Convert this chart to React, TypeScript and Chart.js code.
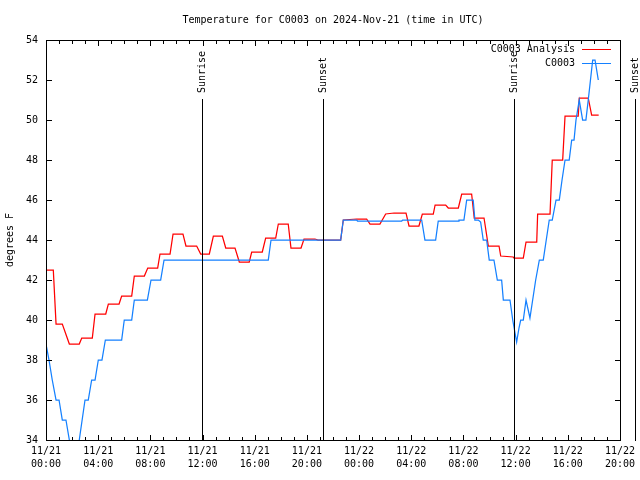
import React, { useEffect, useRef } from 'react';
import { Chart, registerables } from 'chart.js';

Chart.register(...registerables);

const chartTitle = 'Temperature for C0003 on 2024-Nov-21 (time in UTC)';
const yAxisTitle = 'degrees F';
const seriesNames = ['C0003 Analysis', 'C0003'];
const seriesColors = ['#ff0000', '#1480ff'];

const xTickLabels = [
  ['11/21', '00:00'], ['11/21', '04:00'], ['11/21', '08:00'], ['11/21', '12:00'],
  ['11/21', '16:00'], ['11/21', '20:00'], ['11/22', '00:00'], ['11/22', '04:00'],
  ['11/22', '08:00'], ['11/22', '12:00'], ['11/22', '16:00'], ['11/22', '20:00'],
];

// hours since 2024-11-21 00:00 UTC
const analysisHours = [
  0, 0.56, 0.77, 1.25, 1.79, 2.55, 2.74, 3.55, 3.76, 4.58, 4.78, 5.6, 5.8, 6.57,
  6.77, 7.54, 7.8, 8.56, 8.74, 9.51, 9.74, 10.5, 10.73, 11.55, 11.86, 12.52,
  12.83, 13.52, 13.78, 14.49, 14.82, 15.58, 15.77, 16.58, 16.84, 17.61, 17.81,
  18.57, 18.78, 19.55, 19.78, 20.62, 20.85, 22.59, 22.79, 23.82, 24.58, 24.84,
  25.6, 26.04, 26.68, 27.6, 27.83, 28.59, 28.85, 29.69, 29.83, 30.64, 30.84,
  31.61, 31.87, 32.63, 32.83, 33.58, 33.91, 34.73, 34.86, 35.82, 35.88, 36.59,
  36.8, 37.62, 37.69, 38.64, 38.81, 39.61, 39.79, 40.8, 40.88, 41.57, 41.83, 42.37,
];
const analysisTemps = [
  42.5, 42.5, 39.8, 39.8, 38.8, 38.8, 39.1, 39.1, 40.3, 40.3, 40.8, 40.8, 41.2, 41.2,
  42.2, 42.2, 42.6, 42.6, 43.3, 43.3, 44.3, 44.3, 43.7, 43.7, 43.3, 43.3,
  44.2, 44.2, 43.6, 43.6, 42.9, 42.9, 43.4, 43.4, 44.1, 44.1, 44.8,
  44.8, 43.6, 43.6, 44.05, 44.05, 44.0, 44.0, 45.0, 45.05, 45.05, 44.8,
  44.8, 45.3, 45.35, 45.35, 44.7, 44.7, 45.3, 45.3, 45.75, 45.75, 45.6,
  45.6, 46.3, 46.3, 45.1, 45.1, 43.7, 43.7, 43.2, 43.15, 43.1, 43.1,
  43.9, 43.9, 45.3, 45.3, 48.0, 48.0, 50.2, 50.2, 51.1, 51.1, 50.25, 50.25,
];

const obsHours = [
  0, 0.23, 0.48, 0.77, 1.0, 1.25, 1.53, 1.79, 2.07, 2.3, 2.55, 2.99, 3.24, 3.5,
  3.76, 4.01, 4.29, 4.55, 5.8, 6.0, 6.57, 6.77, 7.77, 8.05, 8.79, 9.05, 17.04,
  17.25, 22.59, 22.79, 23.82, 23.88, 27.27, 27.34, 28.8, 29.05, 29.87, 30.07,
  31.61, 31.66, 32.04, 32.25, 32.75, 32.88, 33.14, 33.32, 33.52, 33.78, 33.98,
  34.34, 34.6, 34.93, 35.06, 35.57, 35.78, 36.08, 36.26, 36.39, 36.59, 36.8,
  37.1, 37.54, 37.82, 38.12, 38.35, 38.58, 38.81, 39.1, 39.35, 39.56, 39.79,
  40.11, 40.3, 40.48, 40.63, 40.88, 41.14, 41.39, 41.57, 41.91, 42.09, 42.34,
];
const obsTemps = [
  38.8, 38.0, 37.0, 36.0, 36.0, 35.0, 35.0, 34.0, 33.0, 33.0, 34.0, 36.0, 36.0, 37.0,
  37.0, 38.0, 38.0, 39.0, 39.0, 40.0, 40.0, 41.0, 41.0, 42.0, 42.0, 43.0, 43.0,
  44.0, 44.0, 45.0, 45.0, 44.95, 44.95, 45.0, 45.0, 44.0, 44.0, 44.95,
  44.95, 45.0, 45.0, 46.0, 46.0, 45.0, 45.0, 44.9, 44.0, 44.0, 43.0,
  43.0, 42.0, 42.0, 41.0, 41.0, 40.0, 38.9, 39.6, 40.0, 40.0, 41.0,
  40.1, 42.0, 43.0, 43.0, 44.0, 45.0, 45.0, 46.0, 46.0, 47.0, 48.0,
  48.0, 49.0, 49.0, 50.0, 51.0, 50.0, 50.0, 51.0, 53.0, 53.0, 52.0,
];

const markerHours = [11.94, 21.2, 35.89, 45.19];
const markerLabels = ['Sunrise', 'Sunset', 'Sunrise', 'Sunset'];

const FONT = '10px "DejaVu Sans Mono", "Liberation Mono", monospace';

const decorPlugin = {
  id: 'decor',
  afterDraw(chart: any) {
    const ctx = chart.ctx as CanvasRenderingContext2D;
    const xs = chart.scales.x;
    const ys = chart.scales.y;
    const L = Math.round(chart.chartArea.left);
    const R = Math.round(chart.chartArea.right);
    const T = Math.round(chart.chartArea.top);
    const B = Math.round(chart.chartArea.bottom);
    ctx.save();
    ctx.fillStyle = '#000';
    ctx.strokeStyle = '#000';
    ctx.lineWidth = 1;
    // border box
    ctx.strokeRect(L + 0.5, T + 0.5, R - L, B - T);
    // x ticks (inward, mirrored)
    for (let h = 0; h <= 44; h++) {
      const px = Math.round(xs.getPixelForValue(h));
      const len = h % 4 === 0 ? 5 : 3;
      ctx.fillRect(px, B - len, 1, len);
      ctx.fillRect(px, T + 1, 1, len);
    }
    // y ticks
    for (let v = 34; v <= 54; v += 2) {
      const py = Math.round(ys.getPixelForValue(v));
      ctx.fillRect(L + 1, py, 5, 1);
      ctx.fillRect(R - 5, py, 5, 1);
    }
    // sunrise / sunset markers
    ctx.font = FONT;
    markerHours.forEach((h, i) => {
      const px = Math.round(xs.getPixelForValue(h));
      ctx.fillRect(px, 99, 1, B - 99 + 1);
      ctx.save();
      ctx.translate(px + 0.5, 93);
      ctx.rotate(-Math.PI / 2);
      ctx.textAlign = 'left';
      ctx.textBaseline = 'middle';
      ctx.fillText(markerLabels[i], 0, 0);
      ctx.restore();
    });
    // title
    ctx.textAlign = 'center';
    ctx.textBaseline = 'middle';
    ctx.fillText(chartTitle, (L + R) / 2, 20);
    // y axis title
    ctx.save();
    ctx.translate(10, (T + B) / 2);
    ctx.rotate(-Math.PI / 2);
    ctx.textAlign = 'center';
    ctx.textBaseline = 'middle';
    ctx.fillText(yAxisTitle, 0, 0);
    ctx.restore();
    // legend
    ctx.textAlign = 'right';
    ctx.textBaseline = 'middle';
    const legendY = [49, 63];
    seriesNames.forEach((name, i) => {
      ctx.fillStyle = '#000';
      ctx.fillText(name, 575, legendY[i] + 0.5);
      ctx.fillStyle = seriesColors[i];
      ctx.fillRect(582, legendY[i], 29, 1);
    });
    ctx.restore();
  },
};

export default function App() {
  const canvasRef = useRef<HTMLCanvasElement | null>(null);

  useEffect(() => {
    if (!canvasRef.current) return;
    const analysisData = analysisHours.map((h, i) => ({ x: h, y: analysisTemps[i] }));
    const obsData = obsHours.map((h, i) => ({ x: h, y: obsTemps[i] }));
    const chart = new Chart(canvasRef.current, {
      type: 'line',
      data: {
        datasets: [
          {
            label: seriesNames[0],
            data: analysisData,
            borderColor: seriesColors[0],
            backgroundColor: seriesColors[0],
            borderWidth: 1.25,
            pointRadius: 0,
            tension: 0,
            order: 1,
          },
          {
            label: seriesNames[1],
            data: obsData,
            borderColor: seriesColors[1],
            backgroundColor: seriesColors[1],
            borderWidth: 1.25,
            pointRadius: 0,
            tension: 0,
            order: 0,
          },
        ],
      },
      options: {
        responsive: false,
        animation: false,
        layout: { padding: { top: 40, right: 19, left: 0, bottom: 0 } },
        plugins: {
          legend: { display: false },
          title: { display: false },
          tooltip: { enabled: false },
        },
        scales: {
          x: {
            type: 'linear',
            min: 0,
            max: 44,
            grid: { display: false, drawTicks: false },
            border: { display: false },
            afterFit: (scale: any) => { scale.height = 40; },
            ticks: {
              stepSize: 4,
              autoSkip: false,
              maxRotation: 0,
              padding: 5,
              color: '#000',
              font: { family: '"DejaVu Sans Mono", "Liberation Mono", monospace', size: 10, lineHeight: 1.3 },
              callback: (value: any) => {
                const idx = Math.round(Number(value) / 4);
                return xTickLabels[idx] || '';
              },
            },
          },
          y: {
            type: 'linear',
            min: 34,
            max: 54,
            grid: { display: false, drawTicks: false },
            border: { display: false },
            afterFit: (scale: any) => { scale.width = 46; },
            ticks: {
              stepSize: 2,
              padding: 8,
              color: '#000',
              font: { family: '"DejaVu Sans Mono", "Liberation Mono", monospace', size: 10 },
            },
          },
        },
      },
      plugins: [decorPlugin],
    });
    return () => chart.destroy();
  }, []);

  return (
    <div style={{ position: 'absolute', left: 0, top: 0, width: 640, height: 480, background: '#fff' }}>
      <canvas ref={canvasRef} width={640} height={480} style={{ display: 'block' }} />
    </div>
  );
}
